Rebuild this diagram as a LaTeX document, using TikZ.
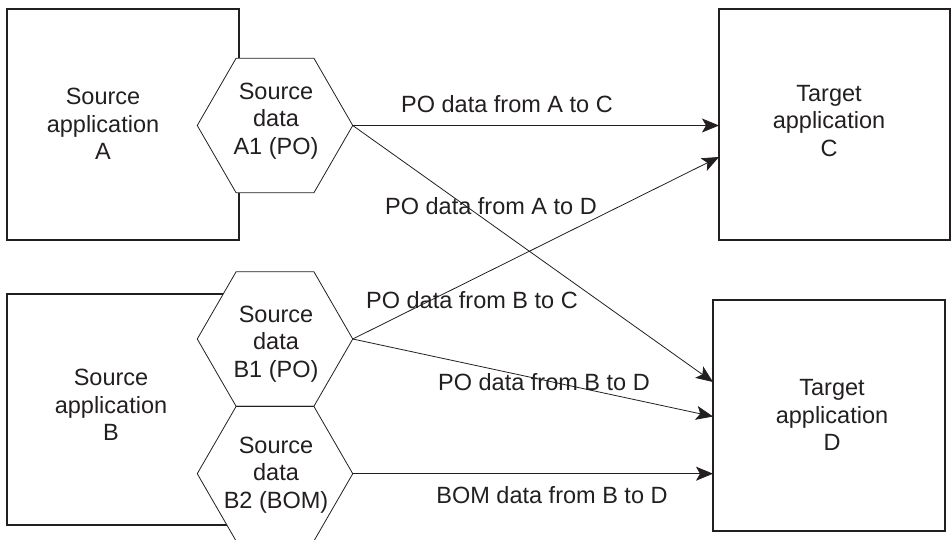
\documentclass[tikz,border=0pt]{standalone}
\usepackage{fontspec}
\setmainfont{Liberation Sans}
\usetikzlibrary{shapes.geometric,arrows.meta}
\definecolor{ink}{HTML}{231F20}
\begin{document}
\begin{tikzpicture}[x=1pt,y=-1pt,
  box/.style={draw=ink,line width=1.1pt,rectangle,minimum width=232pt,minimum height=231pt,inner sep=0pt,outer sep=0pt},
  hex/.style={draw=ink,fill=white,line width=0.8pt,regular polygon,regular polygon sides=6,minimum size=155.5pt,inner sep=0pt,outer sep=0pt},
  txt/.style={font=\fontsize{23.5}{27.5}\selectfont,text=ink,align=center,inner sep=0pt},
  flow/.style={draw=ink,line width=0.8pt,-{Stealth[length=17pt,width=14pt,inset=4pt]}}]
\useasboundingbox (0,0) rectangle (952,540);
% application boxes
\node[box] (srcA) at (123,124.5) {};
\node[box] (srcB) at (123,409.5) {};
\node[box,minimum width=231pt] (tgtC) at (834.5,124.5) {};
\node[box] (tgtD) at (829,415.5) {};
% data hexagons
\node[hex] (hA1) at (275,125.5) {};
\node[hex] (hB1) at (275,339) {};
\node[hex] (hB2) at (275,473.7) {};
% box and hexagon texts
\node[txt] (lA) at (103,124) {Source\\application\\A};
\node[txt] (lB) at (111,405) {Source\\application\\B};
\node[txt] (lC) at (829,121) {Target\\application\\C};
\node[txt] (lD) at (832,415) {Target\\application\\D};
\node[txt] (lA1) at (276,121) {Source\\data\\A1 (PO)};
\node[txt] (lB1) at (276,344) {Source\\data\\B1 (PO)};
\node[txt] (lB2) at (276,475) {Source\\data\\B2 (BOM)};
% flows
\draw[flow] (hA1.east) -- (hA1.east -| tgtC.west);
\draw[flow] (hA1.east) -- ([yshift=33.5pt]tgtD.west);
\draw[flow] (hB1.east) -- ([yshift=-32.5pt]tgtC.west);
\draw[flow] (hB1.east) -- ([yshift=-1pt]tgtD.west);
\draw[flow] (hB2.east) -- (hB2.east -| tgtD.west);
% flow labels
\node[txt] (fAC) at (507,104) {PO data from A to C};
\node[txt] (fAD) at (491,206) {PO data from A to D};
\node[txt] (fBC) at (472,300) {PO data from B to C};
\node[txt] (fBD) at (544,382.5) {PO data from B to D};
\node[txt] (fBD2) at (552,495.5) {BOM data from B to D};
\end{tikzpicture}
\end{document}
